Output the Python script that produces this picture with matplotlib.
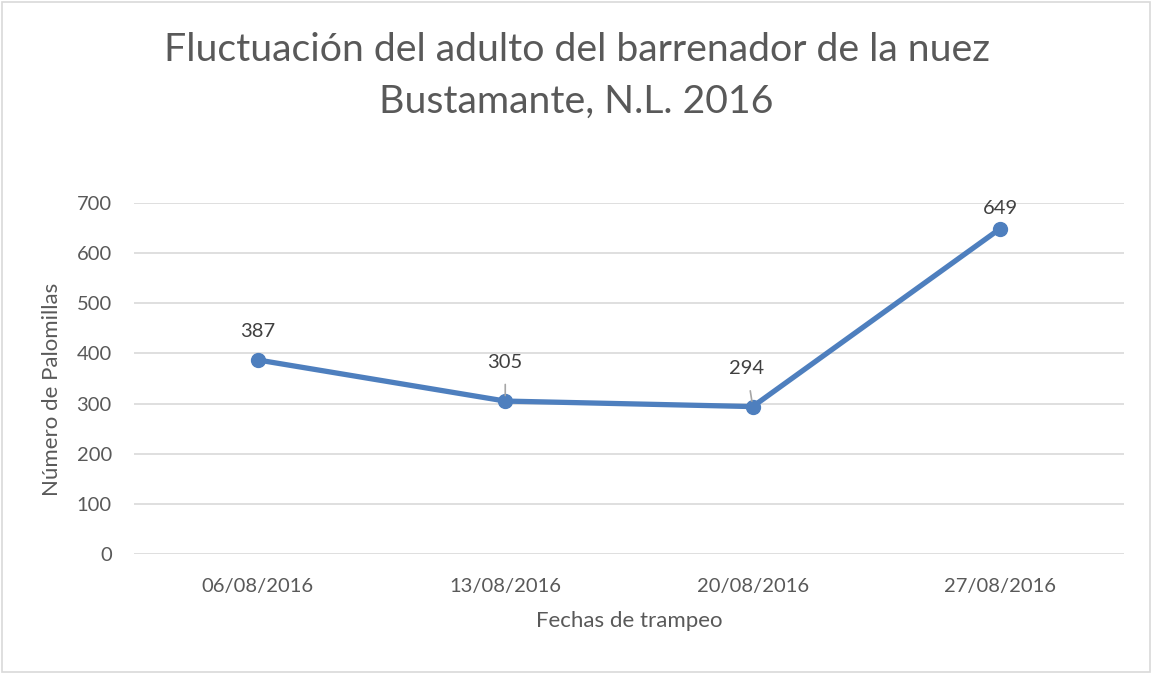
import matplotlib.pyplot as plt

fechas = ['06/08/2016', '13/08/2016', '20/08/2016', '27/08/2016']
palomillas = [387, 305, 294, 649]
# desplazamiento de etiquetas (px) y si llevan linea guia
label_dx = [0, 0, -6, 0]
label_dy = [28, 39, 38, 20]
leader = [False, True, True, False]

plt.rcParams['font.family'] = ['Lato', 'DejaVu Sans']
gris = '#595959'

fig = plt.figure(figsize=(11.53, 6.74), dpi=100)
ax = fig.add_axes([134 / 1153, 1 - 554 / 674, 990 / 1153, 351 / 674])

x = list(range(len(fechas)))
ax.plot(x, palomillas, color='#4E7FBE', linewidth=3.8, marker='o',
        markersize=10, solid_capstyle='round', zorder=3)

for i, v in enumerate(palomillas):
    ax.annotate(str(v), (i, v), xytext=(label_dx[i] * 0.72, label_dy[i] * 0.72),
                textcoords='offset points', ha='center', va='center',
                fontsize=14.5, color='#404040',
                arrowprops=dict(arrowstyle='-', color='#a6a6a6', lw=1.2,
                                shrinkA=8, shrinkB=4) if leader[i] else None)

ax.set_xlim(-0.5, len(fechas) - 0.5)
ax.set_ylim(0, 700)
ax.set_yticks(range(0, 701, 100))
ax.set_xticks(x)
ax.set_xticklabels(fechas)
ax.grid(axis='y', color='#d9d9d9', linewidth=1.2)
ax.set_axisbelow(True)
for s in ax.spines.values():
    s.set_visible(False)
ax.tick_params(length=0, labelsize=14.5, labelcolor=gris)
ax.tick_params(axis='y', pad=16)
ax.tick_params(axis='x', pad=17)

ax.set_xlabel('Fechas de trampeo', fontsize=16, color=gris, labelpad=12)
ax.set_ylabel('Número de Palomillas', fontsize=16, color=gris)
ax.yaxis.set_label_coords(-72 / 990, 0.47)

fig.text(0.5, 1 - 50 / 674, 'Fluctuación del adulto del barrenador de la nuez',
         ha='center', va='center', fontsize=28.3, color=gris)
fig.text(0.5, 1 - 102 / 674, 'Bustamante, N.L. 2016',
         ha='center', va='center', fontsize=28.3, color=gris)

border = plt.Rectangle((0.002, 0.003), 0.995, 0.994, transform=fig.transFigure,
                       fill=False, edgecolor='#d9d9d9', linewidth=1.2)
fig.patches.append(border)

fig.savefig('out.png', dpi=100)
